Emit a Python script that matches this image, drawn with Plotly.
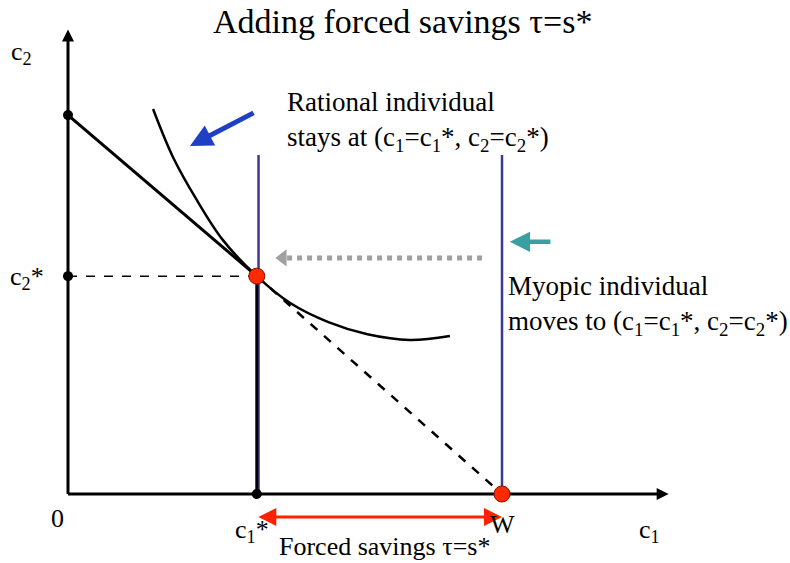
import plotly.graph_objects as go

# Diagram values (units: W = 10)
W = 10.0
c1_star = 4.35
c2_star = 5.02
budget_intercept = 8.73
axis_top = 10.5
axis_right = 13.64
blue_top = 7.81

# indifference curve through (c1*, c2*)
indiff_x = [1.96, 2.42, 2.97, 3.57, 4.35, 5.12, 6.0, 6.9, 7.88, 8.80]
indiff_y = [8.87, 7.76, 6.77, 5.85, 5.02, 4.40, 3.96, 3.68, 3.55, 3.64]

title_text = 'Adding forced savings τ=s*'
rational_text = 'Rational individual<br>stays at (c<sub>1</sub>=c<sub>1</sub>*, c<sub>2</sub>=c<sub>2</sub>*)'
myopic_text = 'Myopic individual<br>moves to (c<sub>1</sub>=c<sub>1</sub>*, c<sub>2</sub>=c<sub>2</sub>*)'
forced_text = 'Forced savings τ=s*'

# page mapping: pixels per unit and origin position
PX = 43.4
OX, OY = 68, 494
FW, FH = 790, 563

SERIF = 'Liberation Serif, Times New Roman, serif'
BLUE = '#3b3b96'

fig = go.Figure()


def line(xs, ys, color='black', width=3, dash='solid'):
    fig.add_trace(go.Scatter(x=xs, y=ys, mode='lines',
                             line=dict(color=color, width=width, dash=dash),
                             hoverinfo='skip', showlegend=False))


# axes
line([0, 0], [0, axis_top], width=3)
line([0, axis_right], [0, 0], width=3)

# budget line: solid above c2*, dashed below
line([0, c1_star], [budget_intercept, c2_star], width=3)
line([c1_star, W], [c2_star, 0], width=2.5, dash='dash')

# guide to c2*
line([0, c1_star], [c2_star, c2_star], width=1.5, dash='dash')

# vertical constraints
line([c1_star + 0.04, c1_star + 0.04], [0, blue_top], color=BLUE, width=2.5)
line([c1_star, c1_star], [0, c2_star], width=3)
line([W, W], [0, blue_top], color=BLUE, width=2.5)

# indifference curve
fig.add_trace(go.Scatter(x=indiff_x, y=indiff_y, mode='lines',
                         line=dict(color='black', width=2.5, shape='spline', smoothing=1.0),
                         hoverinfo='skip', showlegend=False))

# grey dotted arrow
grey_y = 5.44
line([9.54, 5.0], [grey_y, grey_y], color='#a0a0a0', width=5, dash='dot')
fig.add_trace(go.Scatter(x=[4.95], y=[grey_y], mode='markers',
                         marker=dict(symbol='triangle-left', size=15, color='#a0a0a0'),
                         hoverinfo='skip', showlegend=False))

# black points
fig.add_trace(go.Scatter(x=[0, 0, c1_star], y=[budget_intercept, c2_star, 0], mode='markers',
                         marker=dict(color='black', size=10),
                         hoverinfo='skip', showlegend=False))
# red points
fig.add_trace(go.Scatter(x=[c1_star, W], y=[c2_star, 0], mode='markers',
                         marker=dict(color='#ff2a00', size=16, line=dict(color='#8a1000', width=1)),
                         hoverinfo='skip', showlegend=False))

annotations = []


def arrow(x, y, ax, ay, color, width, side='end', size=1.0):
    annotations.append(dict(x=x, y=y, ax=ax, ay=ay, xref='x', yref='y', axref='x', ayref='y',
                            showarrow=True, arrowhead=2, arrowsize=size, arrowwidth=width,
                            arrowcolor=color, arrowside=side, text=''))


# axis arrowheads
arrow(0, axis_top + 0.2, 0, axis_top - 0.3, 'black', 2, size=1.2)
arrow(axis_right + 0.2, 0, axis_right - 0.3, 0, 'black', 2, size=1.2)

# blue, teal and red arrows
arrow(2.81, 8.02, 4.31, 8.80, '#1f3fc4', 5, size=0.9)
arrow(10.18, 5.81, 11.15, 5.81, '#3a9fa3', 4.5, size=0.9)
arrow(W, -0.53, c1_star, -0.53, '#ff2200', 3, side='end+start', size=1.2)


def label(x, y, text, size=26, xanchor='center', align='center'):
    annotations.append(dict(x=x, y=y, xref='x', yref='y', text=text, showarrow=False,
                            xanchor=xanchor, yanchor='middle', align=align,
                            font=dict(family=SERIF, size=size, color='black')))


label(-1.08, 10.15, 'c<sub>2</sub>')
label(-0.95, 4.98, 'c<sub>2</sub>*')
label(-0.25, -0.57, '0')
label(4.23, -0.85, 'c<sub>1</sub>*')
label(10.0, -0.7, 'W')
label(13.4, -0.85, 'c<sub>1</sub>')
label(5.0, 8.59, rational_text, size=27, xanchor='left', align='left')
label(10.1, 4.35, myopic_text, size=27, xanchor='left', align='left')
label(7.3, -1.22, forced_text, size=26)

annotations.append(dict(x=0.509, y=0.962, xref='paper', yref='paper', text=title_text,
                        showarrow=False, xanchor='center', yanchor='middle',
                        font=dict(family=SERIF, size=34, color='black')))

fig.update_layout(
    width=FW, height=FH,
    margin=dict(l=0, r=0, t=0, b=0, autoexpand=False),
    plot_bgcolor='white', paper_bgcolor='white',
    xaxis=dict(range=[-OX / PX, (FW - OX) / PX], visible=False, fixedrange=True),
    yaxis=dict(range=[-(FH - OY) / PX, OY / PX], visible=False, fixedrange=True),
    annotations=annotations,
    showlegend=False,
)

# drop the browser's default page margin so the figure sits at the top-left corner
fig.write_html("out.html", config={'displayModeBar': False},
               post_script="document.body.style.margin = '0px';")
